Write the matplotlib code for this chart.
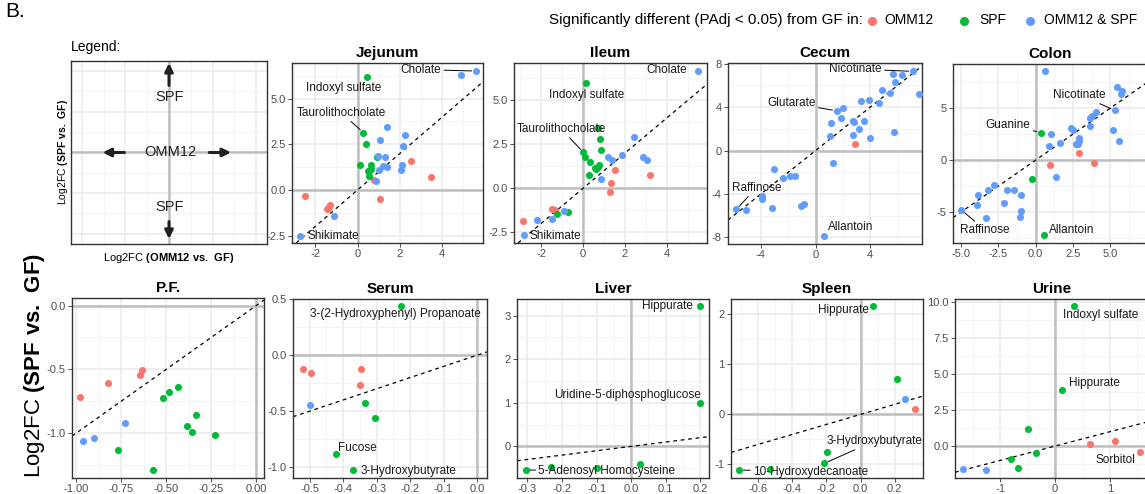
import numpy as np
import matplotlib
matplotlib.use('Agg')
import matplotlib.pyplot as plt
from matplotlib.lines import Line2D
from matplotlib.ticker import MultipleLocator, FuncFormatter

plt.rcParams['font.family'] = ['Liberation Sans', 'DejaVu Sans']
plt.rcParams['mathtext.fontset'] = 'custom'
plt.rcParams['mathtext.rm'] = 'Liberation Sans'
plt.rcParams['mathtext.bf'] = 'Liberation Sans:bold'
plt.rcParams['axes.unicode_minus'] = False

# groups: O = OMM12, S = SPF, B = OMM12 & SPF
groups = ['O', 'S', 'B']
group_names = ['OMM12', 'SPF', 'OMM12 & SPF']

# ---- data: log2FC OMM12 vs GF (x), SPF vs GF (y) ----
jejunum_x = [5.58, 4.86, 1.38, 2.24, 1.08, 2.16, 0.96, 1.30, 1.19, 1.38, 1.03, 2.08, 2.04, 0.88, -1.13, -2.70,
             0.45, 0.28, 0.42, 0.91, 0.13, 0.63, 0.64, 0.49, 0.55, 0.53,
             2.51, 3.46, 0.78, 1.07, -2.49, -1.29, -1.35, -1.44]
jejunum_y = [6.51, 6.30, 3.45, 3.01, 2.76, 2.41, 1.88, 1.82, 1.33, 1.24, 1.11, 1.39, 1.11, 0.47, -1.44, -2.50,
             6.19, 3.14, 2.50, 1.82, 1.37, 1.35, 1.17, 1.06, 1.02, 0.78,
             1.61, 0.71, 0.57, -0.49, -0.35, -0.84, -0.93, -1.04]
jejunum_grp = list('B' * 16 + 'S' * 10 + 'O' * 8)
jejunum_named = {0: 'Cholate', 15: 'Shikimate', 16: 'Indoxyl sulfate', 17: 'Taurolithocholate'}

ileum_x = [5.47, 2.45, 1.86, 2.86, 3.08, 1.20, 1.37, 0.88, -2.21, -1.47, -0.92, -2.80,
           0.16, 0.74, 0.82, 0.85, 0.02, 0.09, 0.35, 0.79, 0.73, 0.63, 0.57, 0.27, -0.73, -1.26,
           1.55, 3.19, 1.33, 1.31, -2.88, -1.47, -1.34]
ileum_y = [6.65, 2.90, 1.89, 1.78, 1.63, 1.80, 1.59, 0.51, -1.80, -1.72, -1.29, -2.65,
           5.97, 3.43, 2.80, 2.20, 2.05, 1.78, 1.50, 1.33, 1.19, 1.12, 1.14, 0.76, -1.33, -1.48,
           1.04, 0.74, 0.32, -0.23, -1.84, -1.19, -1.23]
ileum_grp = list('B' * 12 + 'S' * 14 + 'O' * 7)
ileum_named = {0: 'Cholate', 11: 'Shikimate', 12: 'Indoxyl sulfate', 16: 'Taurolithocholate'}

cecum_x = [7.11, 5.67, 6.31, 5.77, 7.53, 4.87, 5.45, 3.30, 3.89, 4.67, 2.03, 1.54, 1.86, 1.15, 2.71, 2.84,
           3.55, 3.15, 1.08, 2.71, 3.96, 5.70, 1.30, -3.06, -2.37, -1.88, -1.52, -3.91, -3.89, -5.79,
           -5.06, -3.18, -1.03, -0.81, 0.59,
           2.89]
cecum_y = [7.29, 7.02, 6.95, 6.34, 5.20, 5.54, 5.32, 4.58, 4.62, 4.37, 3.91, 3.66, 3.02, 2.52, 2.74, 2.65,
           2.71, 2.00, 1.32, 1.45, 1.14, 1.69, -1.11, -1.72, -2.49, -2.37, -2.37, -4.18, -4.49, -5.42,
           -5.48, -5.32, -5.14, -4.92, -7.85,
           0.62]
cecum_grp = list('B' * 35 + 'O')
cecum_named = {0: 'Nicotinate', 11: 'Glutarate', 29: 'Raffinose', 34: 'Allantoin'}

colon_x = [0.63, 5.42, 5.78, 5.69, 5.30, 4.06, 3.75, 3.66, 2.39, 2.48, 3.66, 5.19, 5.55, 1.06, 2.93, 2.89,
           2.82, 2.71, 1.63, 0.88, 1.35, -2.82, -3.16, -3.88, -1.92, -1.42, -0.97, -3.95, -2.14, -4.97,
           -3.32, -0.95, -1.02,
           0.34, -0.23, 0.59,
           2.89, 0.97, 3.91]
colon_y = [8.53, 7.06, 6.68, 6.36, 4.79, 4.63, 4.19, 4.06, 3.10, 2.91, 3.29, 2.88, 1.82, 2.46, 2.14, 1.79,
           1.57, 1.53, 1.66, 1.37, -1.60, -2.43, -2.84, -3.39, -2.84, -2.84, -3.32, -4.35, -4.12, -4.79,
           -5.53, -4.92, -5.43,
           2.65, -1.82, -7.19,
           0.73, -0.45, -0.29]
colon_grp = list('B' * 33 + 'S' * 3 + 'O' * 3)
colon_named = {4: 'Nicotinate', 29: 'Raffinose', 33: 'Guanine', 35: 'Allantoin'}

pf_x = [-0.978, -0.824, -0.648, -0.633,
        -0.435, -0.485, -0.519, -0.333, -0.383, -0.359, -0.228, -0.769, -0.576,
        -0.730, -0.902, -0.961]
pf_y = [-0.720, -0.607, -0.542, -0.503,
        -0.639, -0.675, -0.728, -0.861, -0.945, -0.995, -1.013, -1.131, -1.291,
        -0.921, -1.042, -1.063]
pf_grp = list('O' * 4 + 'S' * 9 + 'B' * 3)
pf_named = {}

serum_x = [-0.228, -0.336, -0.304, -0.422, -0.371, -0.521, -0.495, -0.346, -0.350, -0.498]
serum_y = [0.440, -0.423, -0.557, -0.881, -1.027, -0.119, -0.161, -0.125, -0.268, -0.443]
serum_grp = list('S' * 5 + 'O' * 4 + 'B')
serum_named = {0: '3-(2-Hydroxyphenyl) Propanoate', 3: 'Fucose', 4: '3-Hydroxybutyrate'}

liver_x = [0.200, 0.200, -0.305, -0.232, -0.100, 0.026]
liver_y = [3.22, 0.99, -0.54, -0.466, -0.50, -0.41]
liver_grp = list('S' * 6)
liver_named = {0: 'Hippurate', 1: 'Uridine-5-diphosphoglucose', 2: '5-Adenosyl Homocysteine'}

spleen_x = [0.076, 0.213, -0.195, -0.213, -0.712, -0.531, 0.260, 0.318]
spleen_y = [2.17, 0.70, -0.747, -0.98, -1.113, -1.093, 0.313, 0.113]
spleen_grp = list('S' * 6 + 'B' + 'O')
spleen_named = {0: 'Hippurate', 3: '3-Hydroxybutyrate', 4: '10-Hydroxydecanoate'}

urine_x = [0.347, 0.128, -0.486, -0.80, -0.34, -0.67, 1.094, 0.638, 1.544, -1.666, -1.258]
urine_y = [9.75, 3.87, 1.18, -0.88, -0.51, -1.50, 0.324, 0.139, -0.44, -1.62, -1.67]
urine_grp = list('S' * 6 + 'O' * 3 + 'B' * 2)
urine_named = {0: 'Indoxyl sulfate', 1: 'Hippurate', 8: 'Sorbitol'}

# ---- style ----
COL = {'O': '#F8766D', 'S': '#00BA38', 'B': '#619CFF'}
W, H = 1145, 494


def pos(l, r, t, b):
    return [l / W, 1 - b / H, (r - l) / W, (b - t) / H]


def fmt(f):
    return FuncFormatter(lambda v, p: f % (round(v, 6) + 0.0))


def base(ax):
    ax.grid(which='major', color='#EBEBEB', lw=1.1)
    ax.grid(which='minor', color='#F2F2F2', lw=0.6)
    ax.set_axisbelow(True)
    for s in ax.spines.values():
        s.set_color('#333333')
        s.set_linewidth(1.0)
    ax.axhline(0, color='#BEBEBE', lw=1.8, zorder=1)
    ax.axvline(0, color='#BEBEBE', lw=1.8, zorder=1)


def panel(ax, title, x, y, grp, named, layout, xlim, ylim, xs, ys, xf, yf):
    ax.set_xlim(xlim)
    ax.set_ylim(ylim)
    ax.xaxis.set_major_locator(MultipleLocator(xs))
    ax.xaxis.set_minor_locator(MultipleLocator(xs / 2))
    ax.yaxis.set_major_locator(MultipleLocator(ys))
    ax.yaxis.set_minor_locator(MultipleLocator(ys / 2))
    ax.xaxis.set_major_formatter(fmt(xf))
    ax.yaxis.set_major_formatter(fmt(yf))
    base(ax)
    ax.tick_params(which='major', length=3, width=0.6, color='#333333',
                   labelsize=8, labelcolor='#4D4D4D', pad=1.5)
    ax.tick_params(which='minor', length=0)
    ax.axline((0, 0), slope=1, color='black', lw=0.9, ls=(0, (3, 3)), zorder=2)
    x = np.array(x)
    y = np.array(y)
    g = np.array(grp)
    for k in groups:
        m = g == k
        ax.scatter(x[m], y[m], s=26, color=COL[k], lw=0, zorder=3)
    for i, name in named.items():
        tx, ty, ha, line = layout[name]
        if line:
            ax.annotate(name, xy=(x[i], y[i]), xytext=(tx, ty), ha=ha, va='center',
                        fontsize=8.5, color='#1A1A1A', zorder=4,
                        arrowprops=dict(arrowstyle='-', color='black', lw=0.7,
                                        shrinkA=0, shrinkB=3))
        else:
            ax.text(tx, ty, name, ha=ha, va='center', fontsize=8.5, color='#1A1A1A', zorder=4)
    ax.set_title(title, fontsize=11, fontweight='bold', pad=4)


fig = plt.figure(figsize=(W / 100, H / 100), dpi=100)

# legend panel
ax = fig.add_axes(pos(71, 267, 61, 244))
ax.set_xlim(-4.5, 4.5)
ax.set_ylim(-4.5, 4.5)
ax.xaxis.set_major_locator(MultipleLocator(2))
ax.xaxis.set_minor_locator(MultipleLocator(1))
ax.yaxis.set_major_locator(MultipleLocator(2))
ax.yaxis.set_minor_locator(MultipleLocator(1))
base(ax)
ax.tick_params(which='both', length=0, labelbottom=False, labelleft=False)
arr = dict(arrowstyle='-|>', color='#231F20', lw=2.2, mutation_scale=12, shrinkA=0, shrinkB=0)
ax.annotate('', xy=(0, 4.4), xytext=(0, 3.3), arrowprops=arr)
ax.annotate('', xy=(0, -4.25), xytext=(0, -3.4), arrowprops=arr)
ax.annotate('', xy=(-3.05, 0), xytext=(-2.05, 0), arrowprops=arr)
ax.annotate('', xy=(2.85, 0), xytext=(1.85, 0), arrowprops=arr)
ax.text(0.05, 2.72, 'SPF', ha='center', va='center', fontsize=10.5, color='#231F20')
ax.text(0.05, 0, 'OMM12', ha='center', va='center', fontsize=10.5, color='#231F20')
ax.text(0.05, -2.67, 'SPF', ha='center', va='center', fontsize=10.5, color='#231F20')
ax.set_ylabel(r'Log2FC $\mathbf{(SPF\ vs.\ GF)}$', fontsize=7.5, labelpad=1)
ax.set_xlabel(r'Log2FC $\mathbf{(OMM12\ vs.\ GF)}$', fontsize=8, labelpad=5)
ax.text(0.0, 1.04, 'Legend:', transform=ax.transAxes, ha='left', va='bottom', fontsize=10)

top = [
    ('Jejunum', (292, 483, 63, 243), jejunum_x, jejunum_y, jejunum_grp, jejunum_named,
     {'Cholate': (3.95, 6.59, 'right', True),
      'Indoxyl sulfate': (-0.66, 5.58, 'center', False),
      'Taurolithocholate': (-0.77, 4.23, 'center', True),
      'Shikimate': (-2.38, -2.54, 'left', False)},
     (-3.09, 5.92), (-2.9, 6.95), 2, 2.5, '%d', '%.1f'),
    ('Ileum', (514, 707, 63, 243), ileum_x, ileum_y, ileum_grp, ileum_named,
     {'Cholate': (4.98, 6.70, 'right', False),
      'Indoxyl sulfate': (0.19, 5.32, 'center', False),
      'Taurolithocholate': (-1.03, 3.37, 'center', True),
      'Shikimate': (-2.57, -2.73, 'left', False)},
     (-3.29, 5.92), (-3.1, 7.12), 2, 2.5, '%d', '%.1f'),
    ('Cecum', (728, 922, 63, 244), cecum_x, cecum_y, cecum_grp, cecum_named,
     {'Nicotinate': (4.84, 7.51, 'right', True),
      'Glutarate': (0.02, 4.37, 'right', True),
      'Raffinose': (-4.33, -3.42, 'center', True),
      'Allantoin': (0.93, -7.0, 'left', False)},
     (-6.4, 7.78), (-8.6, 8.06), 4, 4, '%d', '%d'),
    ('Colon', (953, 1147, 64, 243), colon_x, colon_y, colon_grp, colon_named,
     {'Nicotinate': (2.93, 6.26, 'center', True),
      'Guanine': (-0.34, 3.39, 'right', True),
      'Raffinose': (-3.39, -6.71, 'center', True),
      'Allantoin': (0.90, -6.68, 'left', False)},
     (-5.53, 7.45), (-7.96, 9.23), 2.5, 5, '%.1f', '%d'),
    ('P.F.', (72, 264, 298, 478), pf_x, pf_y, pf_grp, pf_named, {},
     (-1.024, 0.044), (-1.353, 0.06), 0.25, 0.5, '%.2f', '%.1f'),
    ('Serum', (293, 487, 299, 478), serum_x, serum_y, serum_grp, serum_named,
     {'3-(2-Hydroxyphenyl) Propanoate': (-0.243, 0.369, 'center', False),
      'Fucose': (-0.414, -0.827, 'left', False),
      '3-Hydroxybutyrate': (-0.347, -1.039, 'left', False)},
     (-0.55, 0.03), (-1.098, 0.503), 0.1, 0.5, '%.1f', '%.1f'),
    ('Liver', (517, 709, 299, 478), liver_x, liver_y, liver_grp, liver_named,
     {'Hippurate': (0.179, 3.22, 'right', False),
      'Uridine-5-diphosphoglucose': (-0.01, 1.18, 'center', False),
      '5-Adenosyl Homocysteine': (-0.268, -0.57, 'left', True)},
     (-0.33, 0.225), (-0.725, 3.38), 0.1, 1, '%.1f', '%d'),
    ('Spleen', (731, 923, 299, 478), spleen_x, spleen_y, spleen_grp, spleen_named,
     {'Hippurate': (0.051, 2.08, 'right', False),
      '3-Hydroxybutyrate': (0.082, -0.533, 'center', True),
      '10-Hydroxydecanoate': (-0.632, -1.147, 'left', True)},
     (-0.761, 0.367), (-1.273, 2.31), 0.2, 1, '%.1f', '%d'),
    ('Urine', (955, 1149, 299, 478), urine_x, urine_y, urine_grp, urine_named,
     {'Indoxyl sulfate': (0.83, 9.12, 'center', False),
      'Hippurate': (0.26, 4.375, 'left', False),
      'Sorbitol': (1.094, -1.0, 'center', False)},
     (-1.82, 1.71), (-2.22, 10.23), 1, 2.5, '%d', '%.1f'),
]

for (title, box, x, y, grp, named, layout, xl, yl, xs, ys, xf, yf) in top:
    ax = fig.add_axes(pos(*box))
    panel(ax, title, x, y, grp, named, layout, xl, yl, xs, ys, xf, yf)

# header
fig.text(5 / W, 1 - 17 / H, 'B.', fontsize=15, ha='left', va='baseline')
fig.text(863 / W, 1 - 20 / H, 'Significantly different (PAdj < 0.05) from GF in:',
         fontsize=11, ha='right', va='center')
for gx, tx, k, name in zip([872, 964, 1030], [884, 979, 1044], groups, group_names):
    fig.add_artist(Line2D([gx / W], [1 - 21 / H], marker='o', ms=5.5, color=COL[k],
                          lw=0, transform=fig.transFigure))
    fig.text(tx / W, 1 - 20 / H, name, fontsize=10, ha='left', va='center')

fig.text(35 / W, 1 - 366 / H, r'Log2FC $\mathbf{(SPF\ vs.\ GF)}$', fontsize=16,
         rotation=90, ha='center', va='center')

fig.savefig('out.png', dpi=100)
